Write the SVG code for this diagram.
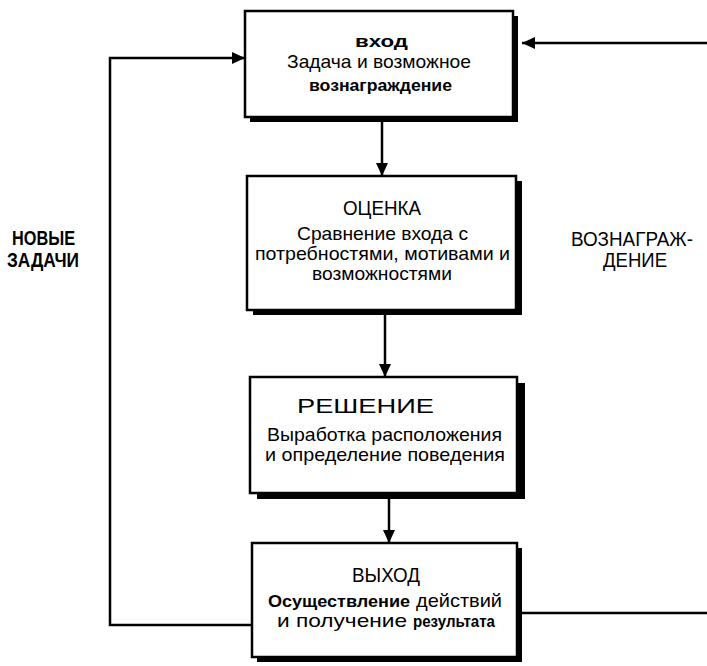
<svg xmlns="http://www.w3.org/2000/svg" width="707" height="666" viewBox="0 0 707 666">
<defs>
<style>
.box{fill:#fff;stroke:#000;stroke-width:2.5}
.sh{fill:#000}
.c{fill:none;stroke:#000;stroke-width:2.5}
text{font-family:"Liberation Sans Narrow","Liberation Sans",Arial,sans-serif;fill:#000}
.n{font-size:19px}
.t{font-size:21px}
.b{font-size:16px;font-weight:bold;font-family:"Liberation Sans",Arial,sans-serif}
.lb{font-size:20px;font-weight:bold}
.lr{font-size:20px}
</style>
<marker id="ah" markerUnits="userSpaceOnUse" markerWidth="14" markerHeight="12" refX="13" refY="6" orient="auto">
<path d="M0,0 L13,6 L0,12 Z" fill="#000"/>
</marker>
</defs>
<rect width="707" height="666" fill="#fff"/>
<g id="connectors">
<line class="c" x1="382" y1="122" x2="382" y2="176" marker-end="url(#ah)"/>
<line class="c" x1="385" y1="315" x2="385" y2="377" marker-end="url(#ah)"/>
<line class="c" x1="389" y1="498" x2="389" y2="543" marker-end="url(#ah)"/>
<path class="c" d="M252,625 H110 V58 H245" marker-end="url(#ah)"/>
<path class="c" d="M707,43 H522" marker-end="url(#ah)"/>
<path class="c" d="M522,613 H707"/>
</g>
<g id="node-vhod">
<rect class="sh" x="250" y="16" width="268" height="106"/>
<rect class="box" x="245" y="11" width="268" height="106"/>
<text class="b" x="355" y="47" textLength="53" lengthAdjust="spacingAndGlyphs" style="font-size:17px">вход</text>
<text class="n" x="287" y="68" textLength="184" lengthAdjust="spacingAndGlyphs">Задача и возможное</text>
<text class="b" x="309" y="91" textLength="143" lengthAdjust="spacingAndGlyphs">вознаграждение</text>
</g>
<g id="node-ocenka">
<rect class="sh" x="253" y="181" width="269" height="134"/>
<rect class="box" x="247" y="176" width="269" height="134"/>
<text class="t" x="343" y="215" textLength="78" lengthAdjust="spacingAndGlyphs">ОЦЕНКА</text>
<text class="n" x="297" y="240" textLength="171" lengthAdjust="spacingAndGlyphs">Сравнение  входа  с</text>
<text class="n" x="255" y="260" textLength="255" lengthAdjust="spacingAndGlyphs">потребностями, мотивами и</text>
<text class="n" x="312" y="280" textLength="140" lengthAdjust="spacingAndGlyphs">возможностями</text>
</g>
<g id="node-reshenie">
<rect class="sh" x="257" y="383" width="268" height="116"/>
<rect class="box" x="250" y="377" width="267" height="116"/>
<text class="t" x="297" y="413" textLength="137" lengthAdjust="spacingAndGlyphs">РЕШЕНИЕ</text>
<text class="n" x="267" y="441" textLength="235" lengthAdjust="spacingAndGlyphs">Выработка расположения</text>
<text class="n" x="265" y="461" textLength="240" lengthAdjust="spacingAndGlyphs">и  определение  поведения</text>
</g>
<g id="node-vyhod">
<rect class="sh" x="257" y="548" width="265" height="114"/>
<rect class="box" x="252" y="543" width="265" height="114"/>
<text class="t" x="352" y="582" textLength="68" lengthAdjust="spacingAndGlyphs">ВЫХОД</text>
<text class="b" x="268" y="607" textLength="142" lengthAdjust="spacingAndGlyphs">Осуществление</text>
<text class="n" x="416" y="607" textLength="86" lengthAdjust="spacingAndGlyphs">действий</text>
<text class="n" x="277" y="627" textLength="130" lengthAdjust="spacingAndGlyphs">и  получение</text>
<text class="b" x="413" y="627" textLength="82" lengthAdjust="spacingAndGlyphs">результата</text>
</g>
<g id="label-new-tasks">
<text class="lb" x="12" y="245" textLength="63" lengthAdjust="spacingAndGlyphs">НОВЫЕ</text>
<text class="lb" x="7" y="267" textLength="72" lengthAdjust="spacingAndGlyphs">ЗАДАЧИ</text>
</g>
<g id="label-reward">
<text class="lr" x="571" y="246" textLength="122" lengthAdjust="spacingAndGlyphs">ВОЗНАГРАЖ-</text>
<text class="lr" x="603" y="267" textLength="64" lengthAdjust="spacingAndGlyphs">ДЕНИЕ</text>
</g>
</svg>
